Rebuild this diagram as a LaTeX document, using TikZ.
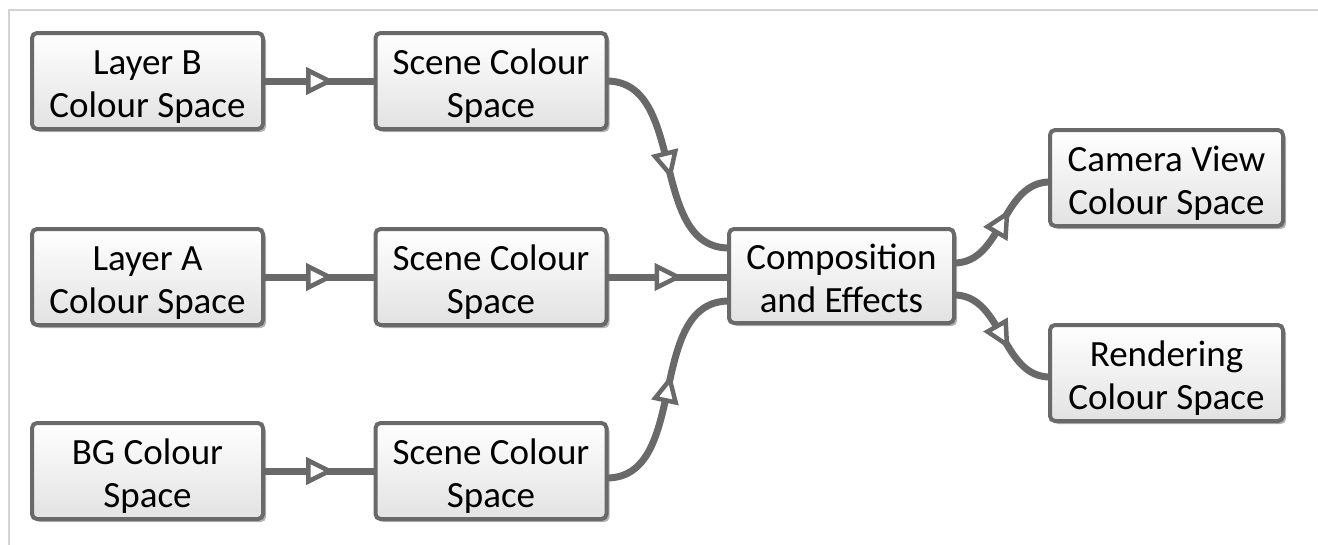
\documentclass[tikz,border=0pt]{standalone}
\usepackage{fontspec}
\setmainfont{Carlito}
\usetikzlibrary{decorations.markings,shadows}
\definecolor{edgec}{HTML}{696969}
\definecolor{framec}{HTML}{D3D3D3}
\definecolor{boxbot}{HTML}{E2E2E2}
\newcommand\twol[2]{\rule{0pt}{38pt}#1\\#2\rule[-9pt]{0pt}{9pt}}
\tikzset{
  box/.style={draw=edgec, line width=4pt, rounded corners=5pt,
    top color=white, bottom color=boxbot,
    minimum width=231pt, minimum height=96pt, inner sep=0pt, outer sep=0pt,
    align=center, font=\fontsize{37}{43}\selectfont,
    drop shadow={shadow xshift=3pt, shadow yshift=-3pt, opacity=0.3, fill=black}},
  flow/.style={draw=edgec, line width=7pt, postaction={decorate},
    decoration={markings, mark=at position 0.5 with {\draw[draw=edgec, fill=white, line width=4.5pt, line join=miter] (10pt,0pt) -- (-11pt,10.5pt) -- (-11pt,-10.5pt) -- cycle;}}},
  frameline/.style={draw=framec, line width=2pt}
}
\begin{document}
\begin{tikzpicture}[x=1pt,y=-1pt]
\useasboundingbox (0,0) rectangle (1318,544);
\coordinate (fa) at (9,560);
\coordinate (fb) at (9,10);
\coordinate (fc) at (1330,10);
\draw[frameline] (fa) -- (fb) -- (fc);
\node[box] (LB) at (147.5,81) {\twol{Layer B}{Colour Space}};
\node[box] (SB) at (491,81) {\twol{Scene Colour}{Space}};
\node[box] (LA) at (147.5,277) {\twol{Layer A}{Colour Space}};
\node[box] (SA) at (491,277) {\twol{Scene Colour}{Space}};
\node[box] (BG) at (147.5,471) {\twol{BG Colour}{Space}};
\node[box] (SBG) at (491,471) {\twol{Scene Colour}{Space}};
\node[box, minimum width=225pt, minimum height=94pt] (Comp) at (841.5,276) {\twol{Composition}{and Effects}};
\node[box, minimum width=233pt] (Cam) at (1166.5,178) {\twol{Camera View}{Colour Space}};
\node[box, minimum width=233pt] (Ren) at (1166.5,373) {\twol{Rendering}{Colour Space}};
\draw[flow] (LB) -- (SB);
\draw[flow] (LA) -- (SA);
\draw[flow] (BG) -- (SBG);
\draw[flow] (SB.east) to[out=0,in=180] ([yshift=28pt]Comp.west);
\draw[flow] (SA.east) -- (SA.east -| Comp.west);
\draw[flow] ([yshift=-7pt]SBG.east) to[out=0,in=180] ([yshift=-25pt]Comp.west);
\draw[flow] ([yshift=13pt]Comp.east) to[out=0,in=180] ([yshift=-4pt]Cam.west);
\draw[flow] ([yshift=-19pt]Comp.east) to[out=0,in=180] ([yshift=-4pt]Ren.west);
\end{tikzpicture}
\end{document}
